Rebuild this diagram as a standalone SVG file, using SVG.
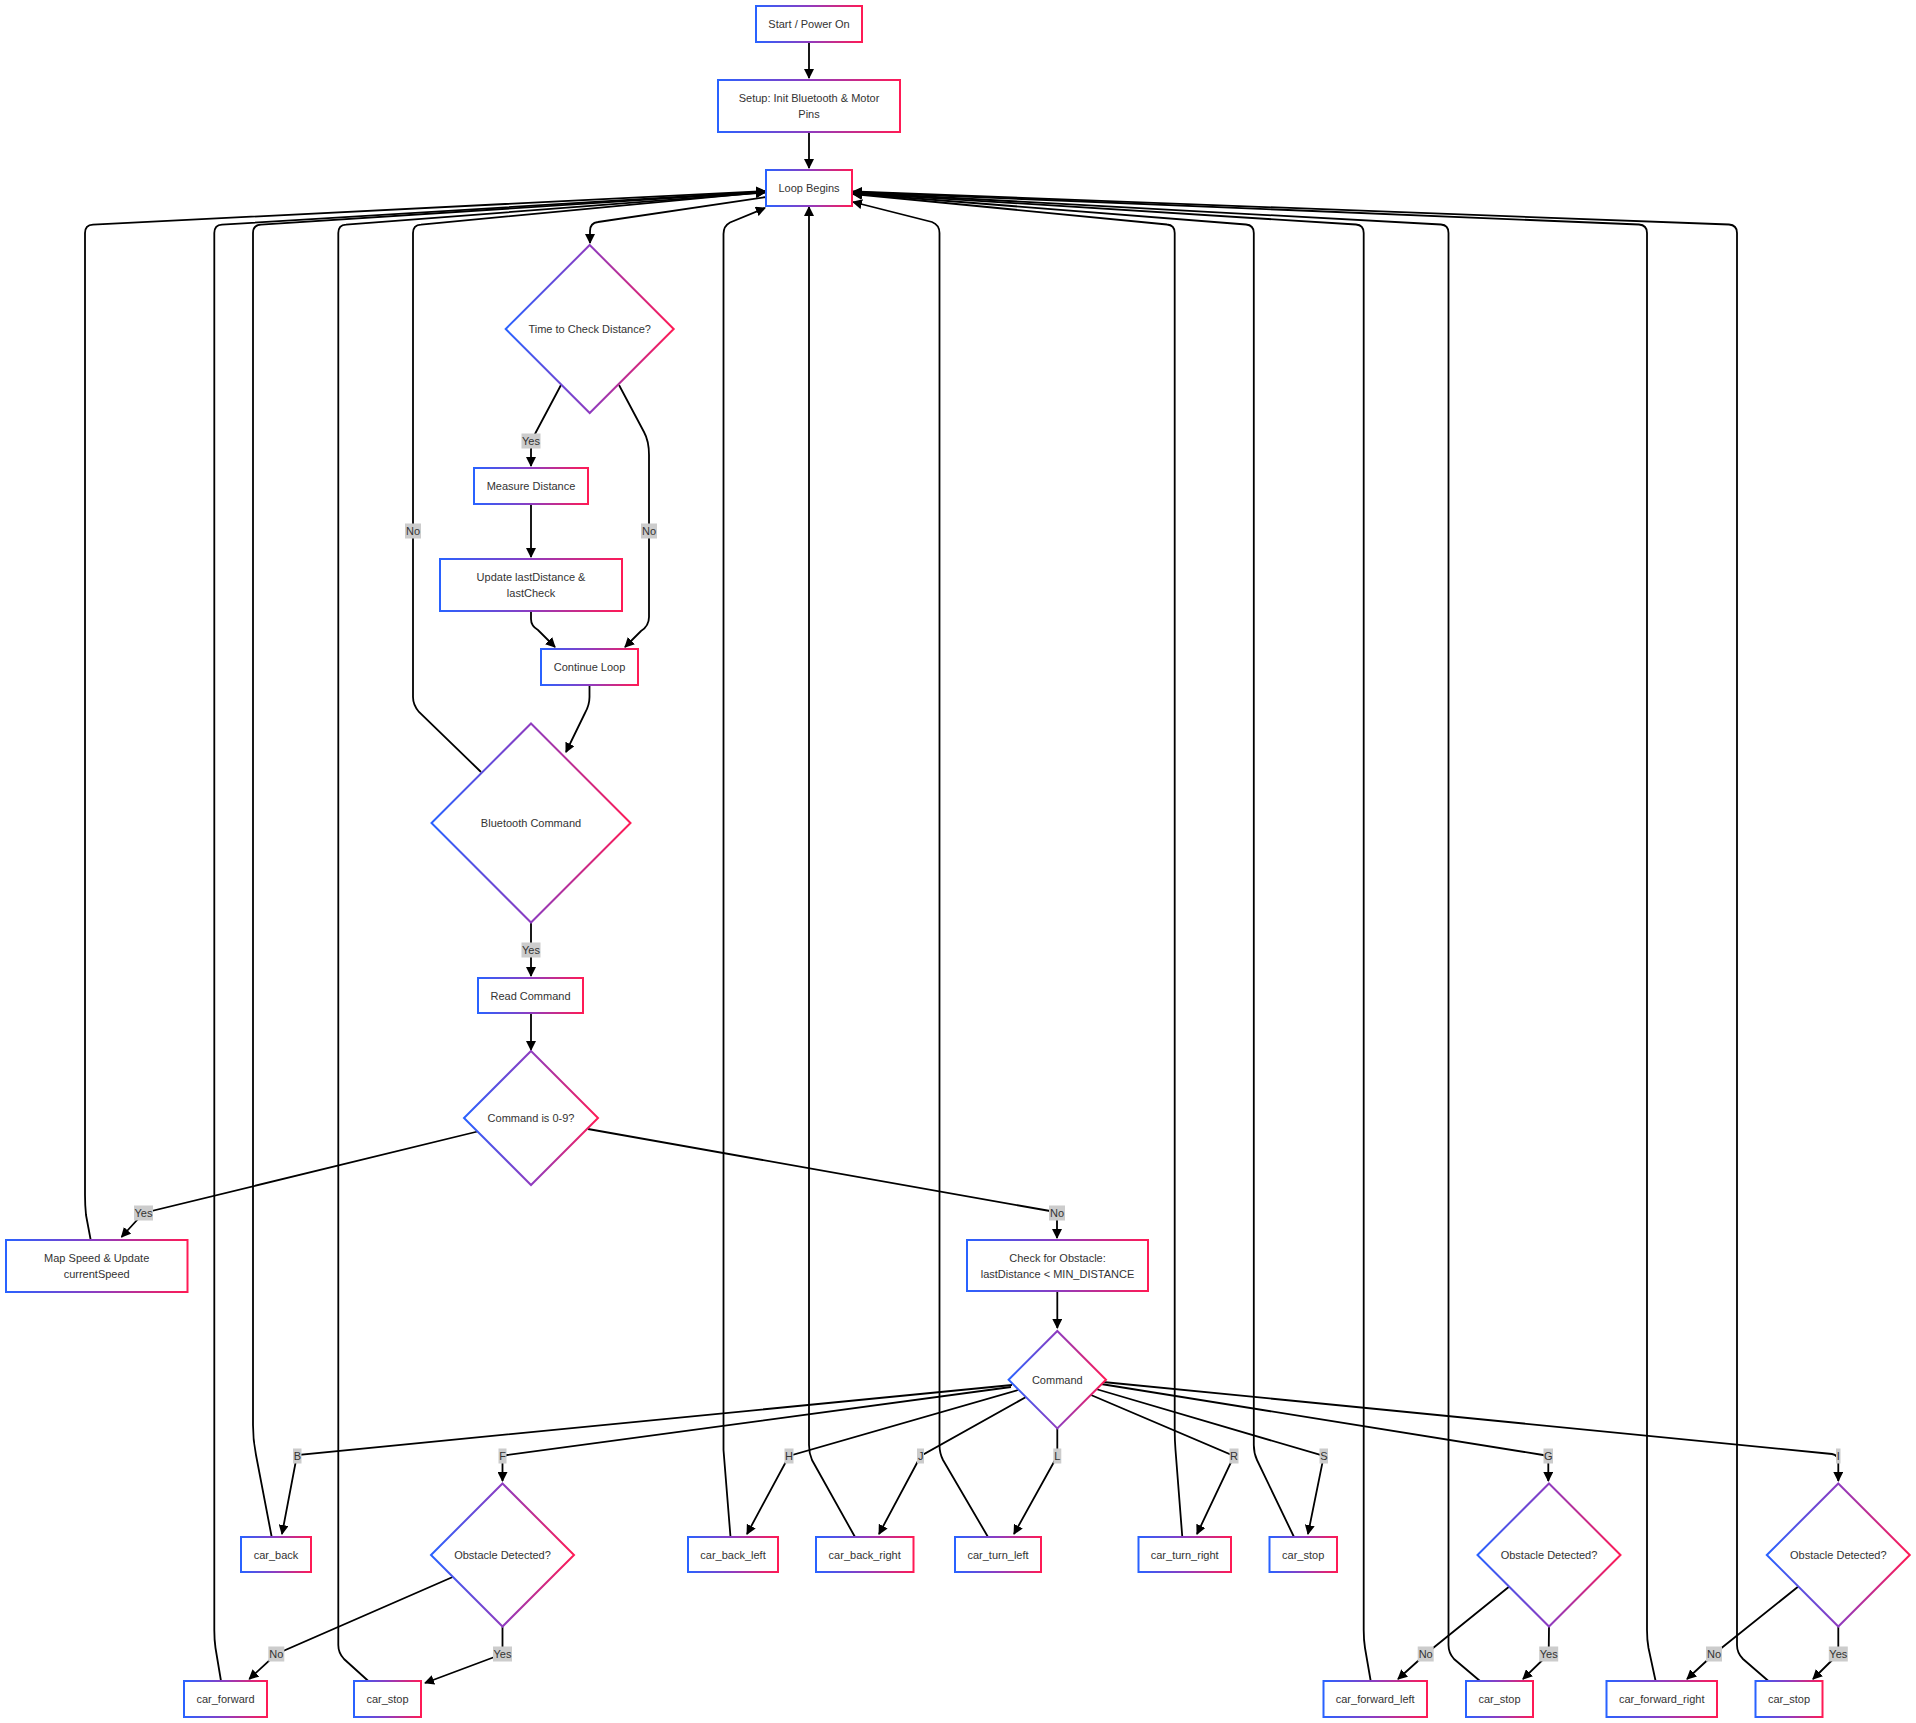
<svg xmlns="http://www.w3.org/2000/svg" width="1916" height="1723" viewBox="0 0 1916 1723">
<defs>
<linearGradient id="grad" x1="0" y1="0" x2="1" y2="0">
<stop offset="0" stop-color="#2962ff"/>
<stop offset="0.5" stop-color="#8e3cc0"/>
<stop offset="1" stop-color="#ff1a55"/>
</linearGradient>
<marker id="arr" viewBox="0 0 10 10" refX="9" refY="5" markerUnits="userSpaceOnUse" markerWidth="10" markerHeight="10" orient="auto">
<path d="M0,0 L10,5 L0,10 z" fill="#000"/>
</marker>
<style>
.n{fill:#fff;stroke:url(#grad);stroke-width:2}
.t{font-family:"Liberation Sans",Arial,sans-serif;font-size:11px;fill:#333;text-anchor:middle;dominant-baseline:central}
.e{fill:none;stroke:#000;stroke-width:1.8;marker-end:url(#arr)}
.lb{fill:#cccccc}
</style>
</defs>
<rect width="1916" height="1723" fill="#fff"/>

<g id="edges">
<path class="e" d="M809,42 L809,78"/>
<path class="e" d="M809,132 L809,168"/>
<path class="e" d="M766,197 L598,222 Q590,223 590,231 L590,243"/>
<path class="e" d="M561,385 L536,432 Q531,441 531,450 L531,466"/>
<path class="e" d="M619,385 L644,432 Q649,441 649,455 L649,617 Q649,626 641,631 L625,647"/>
<path class="e" d="M531,504 L531,557"/>
<path class="e" d="M531,611 L531,619 Q531,626 538,630 L555,647"/>
<path class="e" d="M589.5,685 L589.5,697 Q589.5,705 585,713 L566,752"/>
<path class="e" d="M481,772 L419,712 Q413,705 413,697 L413,233 Q413,225 421,224.6 L765,192"/>
<path class="e" d="M531,923 L531,976"/>
<path class="e" d="M531,1013 L531,1050"/>
<path class="e" d="M477.6,1131.5 L143.5,1213 L121.5,1237"/>
<path class="e" d="M588,1129 L1050,1211 Q1057,1213 1057,1220 L1057,1238"/>
<path class="e" d="M1057.3,1291 L1057.3,1328"/>
<path class="e" d="M1012,1385 L297,1455 L282,1534"/>
<path class="e" d="M1011,1387 L507,1455 Q502.5,1456 502.5,1462 L502.5,1481"/>
<path class="e" d="M1018,1390 L789,1456 L747,1534"/>
<path class="e" d="M1026,1397 L920.7,1456 L879,1534"/>
<path class="e" d="M1057.3,1428 L1057.3,1456 L1014,1534"/>
<path class="e" d="M1091,1395 L1234,1456 L1197,1534"/>
<path class="e" d="M1096,1389 L1323.8,1456 L1308,1534"/>
<path class="e" d="M1101,1384 L1543,1455 Q1548.3,1456 1548.3,1462 L1548.3,1481"/>
<path class="e" d="M1103,1382 L1832,1454 Q1838.3,1455 1838.3,1462 L1838.3,1481"/>
<path class="e" d="M452.7,1577 L276.3,1654 L249.3,1679"/>
<path class="e" d="M502.5,1626.5 L502.5,1654 L425,1683"/>
<path class="e" d="M1509,1586.7 L1425.7,1654 L1398,1679"/>
<path class="e" d="M1549,1626.5 L1548.7,1654 L1523,1679"/>
<path class="e" d="M1798,1586.7 L1714,1654 L1687,1679"/>
<path class="e" d="M1838.3,1626.5 L1838.3,1654 L1813,1679"/>
<path class="e" d="M90.7,1240 L86,1215 Q85,1205 85,1195 L85,233 Q85,225 93,224.6 L765,191"/>
<path class="e" d="M221,1681 L215.5,1648 Q214.3,1640 214.3,1630 L214.3,233 Q214.3,225 222,224.6 L765,191.5"/>
<path class="e" d="M271.7,1537 L256,1455 Q253,1440 253,1425 L253,233 Q253,225 261,224.6 L765,192"/>
<path class="e" d="M368.3,1681 L344,1659 Q338.3,1653 338.3,1645 L338.3,233 Q338.3,225 346,224.6 L765,192.5"/>
<path class="e" d="M730.5,1537 L723.5,1450 L723.5,234 Q723.5,226 730,222.5 L765,208"/>
<path class="e" d="M855,1537 L812,1460 Q809,1453 809,1445 L809,207"/>
<path class="e" d="M988,1537 L943,1460 Q939.5,1453 939.5,1445 L939.5,233 Q939.5,225 932,222 L853,202"/>
<path class="e" d="M1182.3,1537 L1175.5,1450 Q1174.7,1440 1174.7,1430 L1174.7,233 Q1174.7,225 1167,224.5 L853,194"/>
<path class="e" d="M1294,1537 L1257,1460 Q1253.8,1453 1253.8,1445 L1253.8,233 Q1253.8,225 1246,224.5 L853,193.5"/>
<path class="e" d="M1370.7,1681 L1365,1648 Q1363.7,1640 1363.7,1630 L1363.7,233 Q1363.7,225 1356,224.5 L853,193"/>
<path class="e" d="M1480,1681 L1454,1659 Q1448.5,1653 1448.5,1645 L1448.5,233 Q1448.5,225 1441,224.5 L853,192.5"/>
<path class="e" d="M1655.6,1681 L1648.5,1648 Q1647,1640 1647,1630 L1647,233 Q1647,225 1639,224.5 L853,192"/>
<path class="e" d="M1768.4,1681 L1743,1659 Q1737,1653 1737,1645 L1737,233 Q1737,225 1729,224.5 L853,191.5"/>
</g>

<g id="edge-labels">
<rect class="lb" x="521.5" y="433.5" width="19" height="15"/><text class="t" x="531" y="441">Yes</text>
<rect class="lb" x="641" y="523.5" width="16" height="15"/><text class="t" x="649" y="531">No</text>
<rect class="lb" x="405" y="523.5" width="16" height="15"/><text class="t" x="413" y="531">No</text>
<rect class="lb" x="521.5" y="942.5" width="19" height="15"/><text class="t" x="531" y="950">Yes</text>
<rect class="lb" x="134" y="1205.5" width="19" height="15"/><text class="t" x="143.5" y="1213">Yes</text>
<rect class="lb" x="1049" y="1205.5" width="16" height="15"/><text class="t" x="1057" y="1213">No</text>
<rect class="lb" x="293" y="1448.5" width="8.5" height="15"/><text class="t" x="297.3" y="1456">B</text>
<rect class="lb" x="498.5" y="1448.5" width="8" height="15"/><text class="t" x="502.5" y="1456">F</text>
<rect class="lb" x="784.5" y="1448.5" width="9" height="15"/><text class="t" x="789" y="1456">H</text>
<rect class="lb" x="917" y="1448.5" width="7" height="15"/><text class="t" x="920.7" y="1456">J</text>
<rect class="lb" x="1053.3" y="1448.5" width="8" height="15"/><text class="t" x="1057.3" y="1456">L</text>
<rect class="lb" x="1229.5" y="1448.5" width="9" height="15"/><text class="t" x="1234" y="1456">R</text>
<rect class="lb" x="1319.5" y="1448.5" width="8.5" height="15"/><text class="t" x="1323.8" y="1456">S</text>
<rect class="lb" x="1543.5" y="1448.5" width="9.5" height="15"/><text class="t" x="1548.3" y="1456">G</text>
<rect class="lb" x="1836" y="1448.5" width="4.5" height="15"/><text class="t" x="1838.3" y="1456">I</text>
<rect class="lb" x="268.3" y="1646.5" width="16" height="15"/><text class="t" x="276.3" y="1654">No</text>
<rect class="lb" x="493" y="1646.5" width="19" height="15"/><text class="t" x="502.5" y="1654">Yes</text>
<rect class="lb" x="1417.7" y="1646.5" width="16" height="15"/><text class="t" x="1425.7" y="1654">No</text>
<rect class="lb" x="1539.2" y="1646.5" width="19" height="15"/><text class="t" x="1548.7" y="1654">Yes</text>
<rect class="lb" x="1706" y="1646.5" width="16" height="15"/><text class="t" x="1714" y="1654">No</text>
<rect class="lb" x="1828.8" y="1646.5" width="19" height="15"/><text class="t" x="1838.3" y="1654">Yes</text>
</g>

<g id="start"><rect class="n" x="756" y="6" width="106" height="36"/><text class="t" x="809" y="24">Start / Power On</text></g>
<g id="setup"><rect class="n" x="718" y="80" width="182" height="52"/><text class="t" x="809" y="98">Setup: Init Bluetooth &amp; Motor</text><text class="t" x="809" y="114">Pins</text></g>
<g id="loop"><rect class="n" x="766" y="170" width="86" height="36"/><text class="t" x="809" y="188">Loop Begins</text></g>
<g id="timeCheck"><polygon class="n" points="589.7,245 673.7,329 589.7,413 505.7,329"/><text class="t" x="589.7" y="329">Time to Check Distance?</text></g>
<g id="measure"><rect class="n" x="474" y="468" width="114" height="36"/><text class="t" x="531" y="486">Measure Distance</text></g>
<g id="update"><rect class="n" x="440" y="559" width="182" height="52"/><text class="t" x="531" y="577">Update lastDistance &amp;</text><text class="t" x="531" y="593">lastCheck</text></g>
<g id="continue"><rect class="n" x="541" y="649" width="97" height="36"/><text class="t" x="589.5" y="667">Continue Loop</text></g>
<g id="bluetooth"><polygon class="n" points="531,723.5 630.5,823 531,922.5 431.5,823"/><text class="t" x="531" y="823">Bluetooth Command</text></g>
<g id="read"><rect class="n" x="478" y="978" width="105" height="35"/><text class="t" x="530.5" y="995.5">Read Command</text></g>
<g id="cmd09"><polygon class="n" points="531,1051 598,1118 531,1185 464,1118"/><text class="t" x="531" y="1118">Command is 0-9?</text></g>
<g id="mapSpeed"><rect class="n" x="6" y="1240" width="181.5" height="52"/><text class="t" x="96.7" y="1258">Map Speed &amp; Update</text><text class="t" x="96.7" y="1274">currentSpeed</text></g>
<g id="checkObstacle"><rect class="n" x="967" y="1240" width="181" height="51"/><text class="t" x="1057.5" y="1258">Check for Obstacle:</text><text class="t" x="1057.5" y="1274">lastDistance &lt; MIN_DISTANCE</text></g>
<g id="command"><polygon class="n" points="1057.3,1331 1106,1379.7 1057.3,1428.4 1008.6,1379.7"/><text class="t" x="1057.3" y="1379.7">Command</text></g>
<g id="carBack"><rect class="n" x="241" y="1537" width="70" height="35"/><text class="t" x="276" y="1554.5">car_back</text></g>
<g id="obstacleF"><polygon class="n" points="502.5,1483.5 574,1555 502.5,1626.5 431,1555"/><text class="t" x="502.5" y="1555">Obstacle Detected?</text></g>
<g id="carBackLeft"><rect class="n" x="688" y="1537" width="90" height="35"/><text class="t" x="733" y="1554.5">car_back_left</text></g>
<g id="carBackRight"><rect class="n" x="816" y="1537" width="97.5" height="35"/><text class="t" x="864.7" y="1554.5">car_back_right</text></g>
<g id="carTurnLeft"><rect class="n" x="955" y="1537" width="86" height="35"/><text class="t" x="998" y="1554.5">car_turn_left</text></g>
<g id="carTurnRight"><rect class="n" x="1138.5" y="1537" width="92.5" height="35"/><text class="t" x="1184.7" y="1554.5">car_turn_right</text></g>
<g id="carStopS"><rect class="n" x="1269.5" y="1537" width="67.5" height="35"/><text class="t" x="1303.2" y="1554.5">car_stop</text></g>
<g id="obstacleG"><polygon class="n" points="1549,1483.5 1620.5,1555 1549,1626.5 1477.5,1555"/><text class="t" x="1549" y="1555">Obstacle Detected?</text></g>
<g id="obstacleI"><polygon class="n" points="1838.3,1483.5 1909.8,1555 1838.3,1626.5 1766.8,1555"/><text class="t" x="1838.3" y="1555">Obstacle Detected?</text></g>
<g id="carForward"><rect class="n" x="184" y="1681" width="83" height="36"/><text class="t" x="225.5" y="1699">car_forward</text></g>
<g id="carStopF"><rect class="n" x="354" y="1681" width="67" height="36"/><text class="t" x="387.5" y="1699">car_stop</text></g>
<g id="carForwardLeft"><rect class="n" x="1323.5" y="1681" width="103.5" height="36"/><text class="t" x="1375.2" y="1699">car_forward_left</text></g>
<g id="carStopG"><rect class="n" x="1466" y="1681" width="67" height="36"/><text class="t" x="1499.5" y="1699">car_stop</text></g>
<g id="carForwardRight"><rect class="n" x="1606.5" y="1681" width="110.5" height="36"/><text class="t" x="1661.7" y="1699">car_forward_right</text></g>
<g id="carStopI"><rect class="n" x="1755.5" y="1681" width="67" height="36"/><text class="t" x="1789" y="1699">car_stop</text></g>
</svg>
